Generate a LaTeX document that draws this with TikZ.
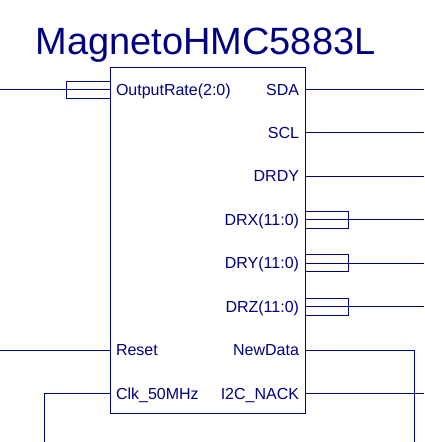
\documentclass[tikz,border=0pt]{standalone}
\usepackage{fontspec}
\setmainfont{Liberation Sans}
\definecolor{navy}{RGB}{0,0,128}
\tikzset{
  lbl/.style={font=\fontsize{16}{18}\selectfont, inner sep=0pt, text=navy},
  bus/.style={draw=navy, minimum width=43.5pt, minimum height=17pt, inner sep=0pt, outer sep=0pt},
  wire/.style={draw=navy, line width=1pt},
}
\begin{document}
\begin{tikzpicture}[x=1pt,y=-1pt,line width=1pt,color=navy]
\useasboundingbox (0,0) rectangle (424,442);
\node[anchor=base, inner sep=0pt, font=\fontsize{38}{40}\selectfont] (title) at (205.5,54.3) {MagnetoHMC5883L};
\node[draw, anchor=north west, minimum width=195pt, minimum height=346pt, inner sep=0pt, outer sep=0pt] (blk) at (110,67) {};
% left pins
\coordinate (pOR) at (110,89.5);
\coordinate (pRst) at (110,350);
\coordinate (pClk) at (110,393.5);
\node[lbl, anchor=base west] (lOR) at (115.5,95) {OutputRate(2:0)};
\node[lbl, anchor=base west] (lRst) at (115.5,355.5) {Reset};
\node[lbl, anchor=base west] (lClk) at (115.5,399) {Clk\_50MHz};
\node[bus, anchor=east] (bOR) at (pOR) {};
\coordinate (eOR) at (0,89.5);
\coordinate (eRst) at (0,350);
\coordinate (eClk) at (44,442);
\draw[wire] (eOR) -- (pOR);
\draw[wire] (eRst) -- (pRst);
\draw[wire] (pClk) -| (eClk);
% right pins
\foreach \n/\y/\t in {SDA/89.5/SDA, SCL/132.5/SCL, DRDY/176/DRDY, DRX/219.5/DRX(11:0), DRY/263/DRY(11:0), DRZ/306.5/DRZ(11:0), ND/350/NewData, NACK/393.5/I2C\_NACK}{
  \coordinate (p\n) at (305,\y);
  \node[lbl, anchor=base east] (l\n) at (299.5,\y+5.5) {\t};
}
\foreach \n/\y in {SDA/89.5, SCL/132.5, DRDY/176, DRX/219.5, DRY/263, DRZ/306.5, NACK/393.5}{
  \coordinate (e\n) at (424,\y);
  \draw[wire] (p\n) -- (e\n);
}
\foreach \n in {DRX, DRY, DRZ}{
  \node[bus, anchor=west] (b\n) at (p\n) {};
}
\coordinate (eND) at (414,442);
\draw[wire] (pND) -| (eND);
\end{tikzpicture}
\end{document}
